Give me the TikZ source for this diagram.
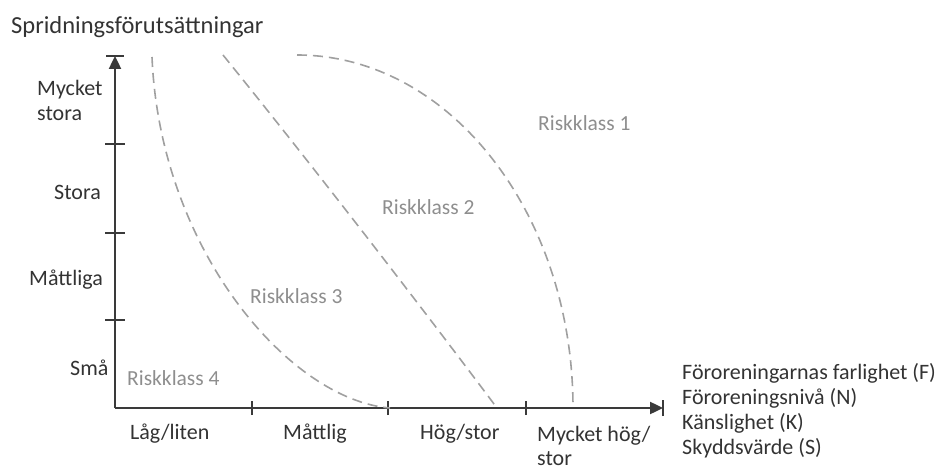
\documentclass[tikz,border=0pt]{standalone}
\usepackage{fontspec}
\setmainfont{Carlito}
\usetikzlibrary{arrows.meta}
\definecolor{txt}{HTML}{333333}
\definecolor{axiscol}{HTML}{3A3A3A}
\definecolor{riskcol}{HTML}{8E8E8E}
\definecolor{dashcol}{HTML}{A0A0A0}
\tikzset{
  lbl/.style={anchor=west,inner sep=0pt,text=txt,font=\fontsize{22}{25}\selectfont,align=left},
  risk/.style={anchor=west,inner sep=0pt,text=riskcol,font=\fontsize{21.5}{25}\selectfont},
  axisline/.style={draw=axiscol,line width=2.4pt,-{Triangle[length=13pt,width=12pt]}},
  bar/.style={draw=axiscol,line width=1.6pt},
  tick/.style={draw=axiscol,line width=1.4pt},
  bound/.style={draw=dashcol,line width=1.6pt,dash pattern=on 10pt off 6pt}
}
\begin{document}
\begin{tikzpicture}[x=1pt,y=-1pt]
\useasboundingbox (0,0) rectangle (950,470);
% axes
\coordinate (O) at (115,408);
\coordinate (ytop) at (115,56);
\coordinate (xend) at (663,408);
\draw[axisline] (O) -- (ytop);
\draw[axisline] (O) -- (xend);
\draw[bar] ([xshift=-9pt]ytop) -- ([xshift=9pt]ytop);
\draw[bar] ([yshift=-8pt]xend) -- ([yshift=8pt]xend);
% y ticks
\foreach \yy/\nm in {144/ya,233/yb,320/yc}{
  \coordinate (\nm) at (115,\yy);
  \draw[tick] ([xshift=-10pt]\nm) -- ([xshift=10pt]\nm);
}
% x ticks
\foreach \xx/\nm in {252/xa,388/xb,526/xc}{
  \coordinate (\nm) at (\xx,408);
  \draw[tick] ([yshift=-7pt]\nm) -- ([yshift=7pt]\nm);
}
% boundaries
\coordinate (a0) at (152,57);
\coordinate (a1) at (390,408);
\coordinate (b0) at (223,55);
\coordinate (b1) at (497,408);
\coordinate (c0) at (297,55);
\coordinate (c1) at (573,408);
\draw[bound] (a0) .. controls (160,250) and (290,400) .. (a1);
\draw[bound] (b0) .. controls (312,165) and (420,305) .. (b1);
\draw[bound] (c0) .. controls (449,55) and (573,213) .. (c1);
% labels
\node[lbl,font=\fontsize{24.5}{28}\selectfont] (title) at (11,27) {Spridningsförutsättningar};
\node[lbl] (ymst) at (37,100.5) {Mycket\\stora};
\node[lbl] (yst) at (54,192) {Stora};
\node[lbl] (ymat) at (29,280) {Måttliga};
\node[lbl] (ysma) at (70,368) {Små};
\node[lbl] (xlag) at (130,434) {Låg/liten};
\node[lbl] (xmat) at (283,434) {Måttlig};
\node[lbl] (xhog) at (420,434) {Hög/stor};
\node[lbl,font=\fontsize{22}{24}\selectfont] (xmh) at (537,445.5) {Mycket hög/\\stor};
\node[lbl] (xaxl) at (682,410.5) {Föroreningarnas farlighet (F)\\Föroreningsnivå (N)\\Känslighet (K)\\Skyddsvärde (S)};
\node[risk] (r1) at (538,123) {Riskklass 1};
\node[risk] (r2) at (382,207) {Riskklass 2};
\node[risk] (r3) at (250,296) {Riskklass 3};
\node[risk] (r4) at (127,378) {Riskklass 4};
\end{tikzpicture}
\end{document}
